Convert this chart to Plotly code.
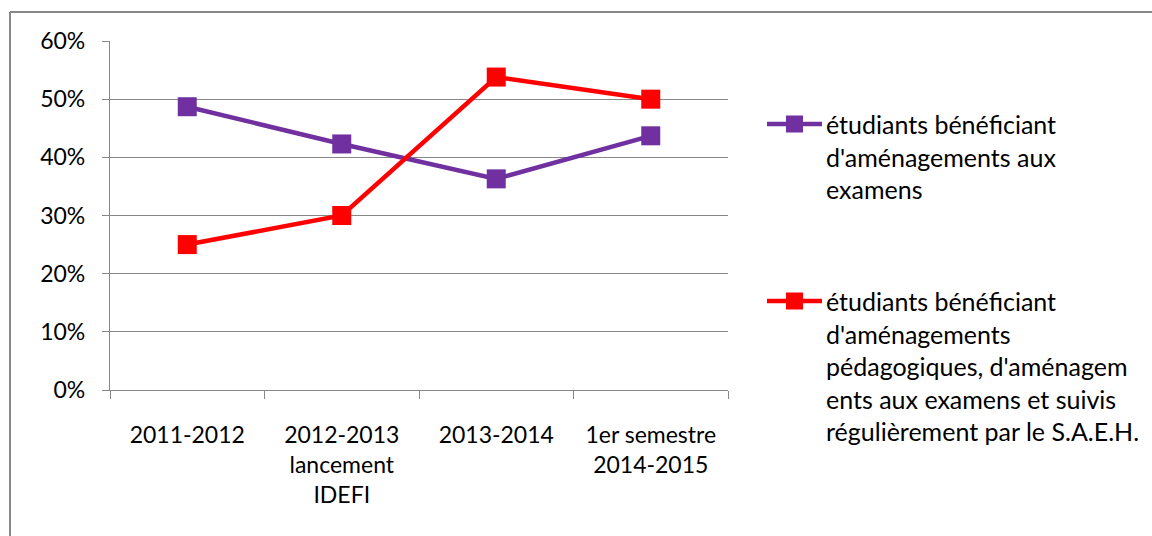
import plotly.graph_objects as go

categories = ["2011-2012", "2012-2013<br>lancement<br>IDEFI", "2013-2014", "1er semestre<br>2014-2015"]
series_names = [
    "étudiants bénéficiant d'aménagements aux examens",
    "étudiants bénéficiant d'aménagements pédagogiques, d'aménagements aux examens et suivis régulièrement par le S.A.E.H.",
]
legend_lines = [
    ["étudiants bénéficiant", "d'aménagements aux", "examens"],
    ["étudiants bénéficiant", "d'aménagements", "pédagogiques, d'aménagem", "ents aux examens et suivis", "régulièrement par le S.A.E.H."],
]
exam_values = [0.487, 0.423, 0.363, 0.437]
saeh_values = [0.25, 0.30, 0.538, 0.50]
colors = ["#7030A0", "#FF0000"]
y_ticks = [0, 0.1, 0.2, 0.3, 0.4, 0.5, 0.6]

W, H = 1152, 536
L, R, T, B = 110, 728, 41, 390
FONT = "Lato"
FS = 23
LFS = 25
GRID = "#878787"

def px_x(px):
    return (px - L) / (R - L)

def px_y(py):
    return (B - py) / (B - T)

fig = go.Figure()
for name, vals, col in zip(series_names, [exam_values, saeh_values], colors):
    fig.add_trace(go.Scatter(
        x=categories, y=vals, name=name, mode="lines+markers",
        line=dict(color=col, width=4.5),
        marker=dict(symbol="square", size=19, color=col),
        showlegend=False,
    ))

shapes = [
    dict(type="line", xref="paper", yref="paper",
         x0=px_x(10), x1=px_x(W + 20), y0=px_y(12), y1=px_y(12),
         line=dict(color="#888888", width=2), layer="below"),
    dict(type="line", xref="paper", yref="paper",
         x0=px_x(10), x1=px_x(10), y0=px_y(12), y1=px_y(H + 20),
         line=dict(color="#888888", width=2), layer="below"),
]
annotations = []
group_y = [[124, 156.5, 189], [301, 333.5, 366, 398.5, 431]]
for lines, ys, col in zip(legend_lines, group_y, colors):
    sy = ys[0]
    shapes.append(dict(type="line", xref="paper", yref="paper",
                       x0=px_x(767), x1=px_x(822), y0=px_y(sy), y1=px_y(sy),
                       line=dict(color=col, width=4.5)))
    shapes.append(dict(type="rect", xref="paper", yref="paper",
                       x0=px_x(786), x1=px_x(803), y0=px_y(sy + 8.5), y1=px_y(sy - 8.5),
                       line=dict(width=0), fillcolor=col))
    for txt, yy in zip(lines, ys):
        annotations.append(dict(text=txt, xref="paper", yref="paper",
                                x=px_x(824), y=px_y(yy), xanchor="left", yanchor="middle",
                                showarrow=False, font=dict(family=FONT, size=LFS, color="black")))

fig.update_layout(
    width=W, height=H, autosize=False,
    margin=dict(l=L, r=W - R, t=T, b=H - B, pad=0),
    paper_bgcolor="white", plot_bgcolor="white",
    font=dict(family=FONT, size=FS, color="black"),
    shapes=shapes, annotations=annotations,
    xaxis=dict(type="category", range=[-0.5, len(categories) - 0.5], showgrid=False,
               showline=True, linecolor=GRID, linewidth=1.3,
               ticks="outside", tickson="boundaries", ticklen=8, tickcolor=GRID, tickwidth=1.3,
               ticklabelstandoff=24, zeroline=False, tickfont=dict(family=FONT, size=FS)),
    yaxis=dict(range=[0, 0.6], tickvals=y_ticks, tickformat=".0%", showgrid=True, gridcolor=GRID,
               gridwidth=1.3, showline=True, linecolor=GRID, linewidth=1.3, ticks="outside",
               ticklen=7, tickcolor=GRID, tickwidth=1.3, zeroline=False, ticklabelstandoff=12,
               tickfont=dict(family=FONT, size=FS)),
)

fig.write_html(
    "out.html",
    config={"displayModeBar": False},
    post_script="document.body.style.margin='0';document.body.style.overflow='hidden';",
)
